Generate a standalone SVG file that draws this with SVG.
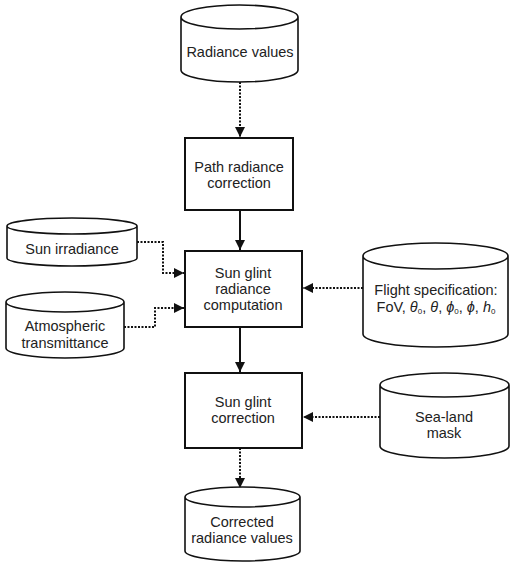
<svg xmlns="http://www.w3.org/2000/svg" width="511" height="565" viewBox="0 0 511 565">
<defs>
<style>
.box{fill:#fff;stroke:#111;stroke-width:2}
.cyl{fill:#fff;stroke:#111;stroke-width:1.6}
.t{font-family:"Liberation Sans",Arial,sans-serif;font-size:14.5px;fill:#222;text-anchor:middle}
.solid{fill:none;stroke:#111;stroke-width:2}
.dot{fill:none;stroke:#111;stroke-width:2;stroke-dasharray:2 1.5}
</style>
<marker id="ah" viewBox="0 0 10 10" refX="10" refY="5" markerWidth="10" markerHeight="10" markerUnits="userSpaceOnUse" orient="auto">
<path d="M0,0 L10,5 L0,10 Z" fill="#111"/>
</marker>
</defs>
<rect width="511" height="565" fill="#fff"/>

<g id="connectors">
<path class="dot" d="M240,82 V137" marker-end="url(#ah)"/>
<path class="solid" d="M240,210 V250" marker-end="url(#ah)"/>
<path class="solid" d="M240,327 V372" marker-end="url(#ah)"/>
<path class="dot" d="M240,448 V488" marker-end="url(#ah)"/>
<path class="dot" d="M137,242 H163 V273 H184" marker-end="url(#ah)"/>
<path class="dot" d="M124,327 H155 V308 H184" marker-end="url(#ah)"/>
<path class="dot" d="M363,288 H303" marker-end="url(#ah)"/>
<path class="dot" d="M380,417 H303" marker-end="url(#ah)"/>
</g>

<g id="radiance-values">
<path class="cyl" d="M181,17 A58.5,12 0 0 1 298,17 A58.5,12 0 0 1 181,17 Z M181,17 V70 A58.5,12 0 0 0 298,70 V17"/>
<text class="t" x="240" y="57">Radiance values</text>
</g>

<g id="path-radiance-correction">
<rect class="box" x="185" y="138" width="108" height="72"/>
<text class="t" x="239" y="172">Path radiance</text>
<text class="t" x="239" y="188">correction</text>
</g>

<g id="sun-irradiance">
<path class="cyl" d="M7,226 A65,8 0 0 1 137,226 A65,8 0 0 1 7,226 Z M7,226 V258 A65,8 0 0 0 137,258 V226"/>
<text class="t" x="72" y="254">Sun irradiance</text>
</g>

<g id="atmospheric-transmittance">
<path class="cyl" d="M6,302 A59,10 0 0 1 124,302 A59,10 0 0 1 6,302 Z M6,302 V348 A59,10 0 0 0 124,348 V302"/>
<text class="t" x="65" y="331">Atmospheric</text>
<text class="t" x="65" y="348">transmittance</text>
</g>

<g id="sun-glint-radiance-computation">
<rect class="box" x="185" y="251" width="117" height="76"/>
<text class="t" x="243" y="278">Sun glint</text>
<text class="t" x="243" y="294">radiance</text>
<text class="t" x="243" y="310">computation</text>
</g>

<g id="flight-specification">
<path class="cyl" d="M363,256 A72.5,13 0 0 1 508,256 A72.5,13 0 0 1 363,256 Z M363,256 V334 A72.5,13 0 0 0 508,334 V256"/>
<text class="t" x="436" y="295">Flight specification:</text>
<text class="t" x="436" y="312">FoV, <tspan font-style="italic">θ</tspan><tspan font-size="8" dy="2">0</tspan><tspan dy="-2">, </tspan><tspan font-style="italic">θ</tspan>, <tspan font-style="italic">ϕ</tspan><tspan font-size="8" dy="2">0</tspan><tspan dy="-2">, </tspan><tspan font-style="italic">ϕ</tspan>, <tspan font-style="italic">h</tspan><tspan font-size="8" dy="2">0</tspan></text>
</g>

<g id="sun-glint-correction">
<rect class="box" x="185" y="373" width="117" height="75"/>
<text class="t" x="243" y="407">Sun glint</text>
<text class="t" x="243" y="423">correction</text>
</g>

<g id="sea-land-mask">
<path class="cyl" d="M380,385 A64.5,12 0 0 1 509,385 A64.5,12 0 0 1 380,385 Z M380,385 V446 A64.5,12 0 0 0 509,446 V385"/>
<text class="t" x="444" y="422">Sea-land</text>
<text class="t" x="444" y="438">mask</text>
</g>

<g id="corrected-radiance-values">
<path class="cyl" d="M185,497 A57.5,10 0 0 1 300,497 A57.5,10 0 0 1 185,497 Z M185,497 V551 A57.5,10 0 0 0 300,551 V497"/>
<text class="t" x="242" y="527">Corrected</text>
<text class="t" x="242" y="543">radiance values</text>
</g>
</svg>
